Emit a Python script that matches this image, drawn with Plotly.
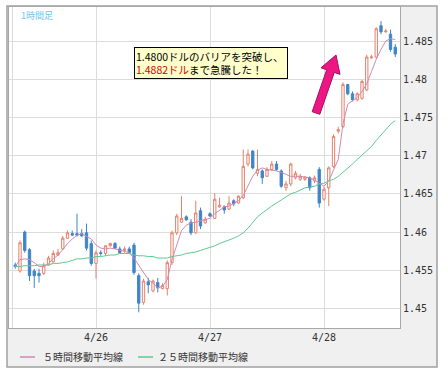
import pandas as pd
import plotly.graph_objects as go

# ---------------- data ----------------
times = pd.date_range("2011-04-25 07:00", periods=81, freq="h")

open_ = [
    1.4557, 1.4549, 1.4600, 1.4577, 1.4549, 1.4546, 1.4546, 1.4557, 1.4561, 1.4570,
    1.4578, 1.4592, 1.4598, 1.4598, 1.4598, 1.4599, 1.4585, 1.4559, 1.4573, 1.4572,
    1.4582, 1.4585, 1.4578, 1.4576, 1.4578, 1.4583, 1.4543, 1.4508, 1.4535, 1.4523,
    1.4534, 1.4526, 1.4526, 1.4560, 1.4599, 1.4613, 1.4620, 1.4613, 1.4599, 1.4628,
    1.4612, 1.4624, 1.4618, 1.4633, 1.4633, 1.4630, 1.4641, 1.4638, 1.4645, 1.4689,
    1.4706, 1.4677, 1.4680, 1.4673, 1.4682, 1.4689, 1.4680, 1.4658, 1.4663, 1.4671,
    1.4669, 1.4669, 1.4671, 1.4667, 1.4682, 1.4643, 1.4658, 1.4686, 1.4732, 1.4738,
    1.4793, 1.4781, 1.4773, 1.4775, 1.4786, 1.4828, 1.4829, 1.4870, 1.4862, 1.4859,
    1.4842,
]
high = [
    1.4560, 1.4589, 1.4602, 1.4579, 1.4552, 1.4552, 1.4560, 1.4569, 1.4576, 1.4578,
    1.4595, 1.4602, 1.4602, 1.4624, 1.4604, 1.4611, 1.4589, 1.4576, 1.4576, 1.4583,
    1.4586, 1.4587, 1.4581, 1.4581, 1.4581, 1.4586, 1.4546, 1.4539, 1.4540, 1.4538,
    1.4540, 1.4533, 1.4563, 1.4602, 1.4624, 1.4647, 1.4622, 1.4617, 1.4641, 1.4632,
    1.4620, 1.4626, 1.4651, 1.4645, 1.4635, 1.4647, 1.4643, 1.4648, 1.4708, 1.4708,
    1.4707, 1.4708, 1.4682, 1.4685, 1.4693, 1.4693, 1.4682, 1.4667, 1.4691, 1.4680,
    1.4676, 1.4673, 1.4673, 1.4674, 1.4685, 1.4659, 1.4686, 1.4728, 1.4738, 1.4796,
    1.4794, 1.4784, 1.4783, 1.4799, 1.4832, 1.4832, 1.4868, 1.4876, 1.4866, 1.4865,
    1.4846,
]
low = [
    1.4552, 1.4547, 1.4573, 1.4536, 1.4527, 1.4534, 1.4544, 1.4556, 1.4560, 1.4569,
    1.4577, 1.4591, 1.4595, 1.4594, 1.4594, 1.4576, 1.4556, 1.4539, 1.4569, 1.4569,
    1.4581, 1.4578, 1.4572, 1.4573, 1.4572, 1.4544, 1.4495, 1.4505, 1.4520, 1.4521,
    1.4521, 1.4525, 1.4517, 1.4557, 1.4596, 1.4612, 1.4615, 1.4596, 1.4598, 1.4604,
    1.4611, 1.4620, 1.4617, 1.4632, 1.4624, 1.4629, 1.4634, 1.4637, 1.4643, 1.4686,
    1.4682, 1.4673, 1.4663, 1.4672, 1.4680, 1.4680, 1.4658, 1.4654, 1.4660, 1.4669,
    1.4667, 1.4667, 1.4654, 1.4664, 1.4632, 1.4641, 1.4634, 1.4684, 1.4729, 1.4736,
    1.4779, 1.4771, 1.4771, 1.4773, 1.4784, 1.4827, 1.4827, 1.4859, 1.4861, 1.4836,
    1.4829,
]
close = [
    1.4555, 1.4586, 1.4576, 1.4543, 1.4543, 1.4543, 1.4556, 1.4566, 1.4572, 1.4573,
    1.4592, 1.4599, 1.4596, 1.4596, 1.4595, 1.4579, 1.4559, 1.4573, 1.4572, 1.4582,
    1.4585, 1.4579, 1.4573, 1.4578, 1.4573, 1.4547, 1.4507, 1.4536, 1.4531, 1.4536,
    1.4527, 1.4530, 1.4560, 1.4599, 1.4621, 1.4618, 1.4616, 1.4599, 1.4625, 1.4608,
    1.4617, 1.4621, 1.4643, 1.4635, 1.4629, 1.4638, 1.4637, 1.4647, 1.4686, 1.4702,
    1.4684, 1.4682, 1.4671, 1.4682, 1.4689, 1.4682, 1.4660, 1.4663, 1.4689, 1.4677,
    1.4673, 1.4672, 1.4658, 1.4671, 1.4638, 1.4656, 1.4684, 1.4725, 1.4734, 1.4793,
    1.4781, 1.4773, 1.4781, 1.4797, 1.4829, 1.4829, 1.4866, 1.4862, 1.4863, 1.4839,
    1.4833,
]
ma5 = [
    1.4555, 1.4564, 1.4565, 1.4564, 1.4560, 1.4555, 1.4555, 1.4559, 1.4565, 1.4570,
    1.4577, 1.4585, 1.4591, 1.4596, 1.4598, 1.4595, 1.4591, 1.4583, 1.4579, 1.4578,
    1.4579, 1.4578, 1.4576, 1.4574, 1.4573, 1.4566, 1.4557, 1.4548, 1.4538, 1.4533,
    1.4527, 1.4529, 1.4538, 1.4564, 1.4583, 1.4602, 1.4609, 1.4612, 1.4613, 1.4615,
    1.4616, 1.4618, 1.4624, 1.4629, 1.4633, 1.4634, 1.4637, 1.4641, 1.4648, 1.4661,
    1.4673, 1.4681, 1.4684, 1.4682, 1.4681, 1.4680, 1.4678, 1.4676, 1.4673, 1.4673,
    1.4673, 1.4672, 1.4671, 1.4668, 1.4664, 1.4660, 1.4667, 1.4680, 1.4695, 1.4742,
    1.4767, 1.4772, 1.4776, 1.4784, 1.4794, 1.4810, 1.4826, 1.4839, 1.4850, 1.4853,
    1.4852,
]
ma25 = [
    1.4555, 1.4555, 1.4556, 1.4556, 1.4556, 1.4557, 1.4557, 1.4557, 1.4559, 1.4559,
    1.4560, 1.4561, 1.4563, 1.4565, 1.4565, 1.4566, 1.4566, 1.4568, 1.4568, 1.4569,
    1.4570, 1.4570, 1.4572, 1.4572, 1.4572, 1.4570, 1.4569, 1.4569, 1.4568, 1.4568,
    1.4566, 1.4566, 1.4566, 1.4568, 1.4569, 1.4570, 1.4572, 1.4573, 1.4574, 1.4576,
    1.4578, 1.4581, 1.4582, 1.4585, 1.4587, 1.4590, 1.4592, 1.4595, 1.4599, 1.4605,
    1.4612, 1.4620, 1.4625, 1.4630, 1.4634, 1.4638, 1.4642, 1.4646, 1.4650, 1.4652,
    1.4655, 1.4658, 1.4659, 1.4660, 1.4663, 1.4664, 1.4667, 1.4669, 1.4673, 1.4678,
    1.4684, 1.4689, 1.4695, 1.4701, 1.4706, 1.4712, 1.4720, 1.4727, 1.4734, 1.4741,
    1.4746,
]

day_ticks = ["2011-04-25 06:30", "2011-04-26 00:00", "2011-04-27 00:00", "2011-04-28 00:00"]
day_labels = ["", "4/26", "4/27", "4/28"]
price_ticks = [1.45, 1.455, 1.46, 1.465, 1.47, 1.475, 1.48, 1.485]
price_labels = ["1.45", "1.455", "1.46", "1.465", "1.47", "1.475", "1.48", "1.485"]

title_text = "1時間足"
note_line1 = "1.4800ドルのバリアを突破し、"
note_hi = "1.4882ドル"
note_rest = "まで急騰した！"
legend_names = ["５時間移動平均線", "２５時間移動平均線"]

# ---------------- styling ----------------
W, H = 448, 378
L, R, T, B = 9, 48, 7, 50
PW, PH = W - L - R, H - T - B

def px(x):
    return (x - L) / PW

def py(y):
    return 1 - (y - T) / PH

C_UP = "#e6806a"
C_DN = "#3f85c8"
C_MA5 = "#d089b2"
C_MA25 = "#5ccb90"
JP = "Noto Sans CJK JP"
MONO = "DejaVu Sans Mono"

fig = go.Figure()
fig.add_trace(go.Candlestick(
    x=times, open=open_, high=high, low=low, close=close,
    increasing=dict(line=dict(color=C_UP, width=1), fillcolor="white"),
    decreasing=dict(line=dict(color=C_DN, width=1), fillcolor=C_DN),
    whiskerwidth=0, showlegend=False, hoverinfo="skip",
))
fig.add_trace(go.Scatter(x=times, y=ma25, mode="lines", name=legend_names[1],
                         line=dict(color=C_MA25, width=1), showlegend=False))
fig.add_trace(go.Scatter(x=times, y=ma5, mode="lines", name=legend_names[0],
                         line=dict(color=C_MA5, width=1), showlegend=False))

shapes = [
    # outer grey frame
    dict(type="rect", xref="paper", yref="paper", layer="below",
         x0=px(7), x1=px(437), y0=py(367), y1=py(6),
         fillcolor="#f0f0f0", line=dict(color="#a0a0a0", width=1.5)),
    # white plot area
    dict(type="rect", xref="paper", yref="paper", layer="below",
         x0=0, x1=1, y0=0, y1=1, fillcolor="white", line=dict(width=0)),
    # legend samples
    dict(type="line", xref="paper", yref="paper", x0=px(20), x1=px(35), y0=py(357), y1=py(357),
         line=dict(color=C_MA5, width=1.5)),
    dict(type="line", xref="paper", yref="paper", x0=px(138), x1=px(153), y0=py(357), y1=py(357),
         line=dict(color=C_MA25, width=1.5)),
]

# block arrow
arrow_pts = [(312.2, 111.7), (326.7, 69.8), (321.0, 67.8), (336.0, 55.0),
             (340.0, 74.4), (334.3, 72.4), (319.8, 114.3)]
path = "M " + " L ".join(f"{px(a):.5f},{py(b):.5f}" for a, b in arrow_pts) + " Z"
shapes.append(dict(type="path", xref="paper", yref="paper", path=path,
                   fillcolor="#ee1685", line=dict(color="#a3105c", width=1)))

annotations = [
    dict(text=title_text, xref="paper", yref="paper", x=px(19), y=py(15),
         xanchor="left", yanchor="middle", showarrow=False,
         font=dict(family=JP, size=9, color="#6ec6ee")),
    dict(text=f"{note_line1}<br><span style='color:#e00000'>{note_hi}</span>{note_rest}",
         xref="paper", yref="paper", x=px(134), y=py(47), xanchor="left", yanchor="top",
         showarrow=False, align="left", width=150, height=28, valign="middle",
         bgcolor="#ffffcc", bordercolor="#000000", borderwidth=1, borderpad=1,
         font=dict(family=JP, size=10.5, color="#000000")),
    dict(text=legend_names[0], xref="paper", yref="paper", x=px(41), y=py(357),
         xanchor="left", yanchor="middle", showarrow=False,
         font=dict(family=JP, size=10, color="#333333")),
    dict(text=legend_names[1], xref="paper", yref="paper", x=px(156), y=py(357),
         xanchor="left", yanchor="middle", showarrow=False,
         font=dict(family=JP, size=10, color="#333333")),
]

fig.update_layout(
    width=W, height=H, margin=dict(l=L, r=R, t=T, b=B, pad=0),
    paper_bgcolor="white", plot_bgcolor="white",
    shapes=shapes, annotations=annotations, showlegend=False,
    xaxis=dict(type="date", range=["2011-04-25 05:41", "2011-04-28 16:00"],
               rangeslider=dict(visible=False), tickmode="array",
               tickvals=day_ticks, ticktext=day_labels, ticks="", ticklen=0,
               showgrid=True, gridcolor="#dcdcdc", gridwidth=1, zeroline=False,
               showline=True, linecolor="#a8a8a8", linewidth=1, mirror=True,
               tickfont=dict(family=MONO, size=10, color="#333333")),
    yaxis=dict(side="right", range=[1.44745, 1.48945], tickmode="array",
               tickvals=price_ticks, ticktext=price_labels, ticks="", ticklen=0,
               showgrid=True, gridcolor="#dcdcdc", gridwidth=1, zeroline=False,
               showline=True, linecolor="#a8a8a8", linewidth=1, mirror=True,
               tickfont=dict(family=MONO, size=10, color="#333333")),
)

fig.write_html("out.html", config={"displayModeBar": False},
               post_script="document.body.style.margin='0';document.body.style.padding='0';")
